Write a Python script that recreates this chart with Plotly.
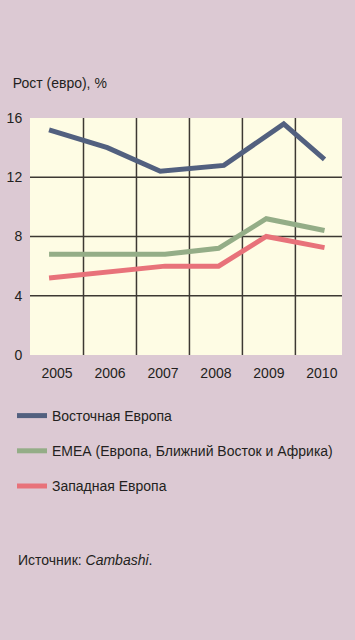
import plotly.graph_objects as go

# ---- data ----
years = [2005, 2006, 2007, 2008, 2009, 2010]
year_labels = ["2005", "2006", "2007", "2008", "2009", "2010"]

east_x = [2004.85, 2005.95, 2006.95, 2008.15, 2009.28, 2010.05]
east_y = [15.2, 14.0, 12.4, 12.8, 15.6, 13.2]

emea_x = [2004.85, 2006.0, 2007.04, 2008.05, 2008.95, 2010.05]
emea_y = [6.8, 6.8, 6.8, 7.2, 9.2, 8.4]

west_x = [2004.85, 2006.04, 2007.04, 2008.05, 2008.95, 2010.05]
west_y = [5.2, 5.6, 6.0, 6.0, 8.0, 7.25]

series_names = [
    "Восточная Европа",
    "ЕМЕА (Европа, Ближний Восток и Африка)",
    "Западная Европа",
]
y_ticks = [0, 4, 8, 12, 16]
y_grid = [4, 8, 12]
x_grid = [2005.5, 2006.5, 2007.5, 2008.5, 2009.5]

FONT = "Liberation Sans, Arial, sans-serif"
TXT = "#231f20"
GRID = "#3d3833"

fig = go.Figure()
for name, xs, ys, col, grp in [
    (series_names[0], east_x, east_y, "#52607f", "a"),
    (series_names[1], emea_x, emea_y, "#94ad87", "b"),
    (series_names[2], west_x, west_y, "#e8727a", "c"),
]:
    fig.add_trace(go.Scatter(
        x=xs, y=ys, mode="lines", name=name, legendgroup=grp,
        line=dict(color=col, width=5),
        hoverinfo="skip",
    ))

shapes = []
for gx in x_grid:
    shapes.append(dict(type="line", xref="x", yref="paper", x0=gx, x1=gx, y0=0, y1=1,
                       line=dict(color=GRID, width=1.5), layer="below"))
for gy in y_grid:
    shapes.append(dict(type="line", xref="paper", yref="y", x0=0, x1=1, y0=gy, y1=gy,
                       line=dict(color=GRID, width=1.5), layer="below"))

fig.update_layout(
    width=355, height=640,
    margin=dict(l=30, r=13, t=118, b=285, pad=0, autoexpand=False),
    paper_bgcolor="#dcc9d3",
    plot_bgcolor="#fefce4",
    font=dict(family=FONT, size=14, color=TXT),
    title=dict(
        text="Рост (евро), %", x=12.7 / 355, xref="container", xanchor="left",
        y=1 - 83 / 640, yref="container", yanchor="middle",
        font=dict(family=FONT, size=14, color=TXT),
    ),
    showlegend=True,
    legend=dict(
        xref="container", yref="container",
        x=12 / 355, xanchor="left",
        y=1 - 400 / 640, yanchor="top",
        bgcolor="rgba(0,0,0,0)", borderwidth=0,
        traceorder="grouped", tracegroupgap=14,
        font=dict(family=FONT, size=14, color=TXT),
    ),
    xaxis=dict(
        range=[2004.49, 2010.38], tickmode="array", tickvals=years, ticktext=year_labels,
        showgrid=False, zeroline=False, showline=False,
        ticks="outside", ticklen=5, tickcolor="rgba(0,0,0,0)",
        fixedrange=True,
    ),
    yaxis=dict(
        range=[0, 16], tickmode="array", tickvals=y_ticks,
        showgrid=False, zeroline=False, showline=False,
        ticks="outside", ticklen=4, tickcolor="rgba(0,0,0,0)",
        fixedrange=True,
    ),
    shapes=shapes,
    annotations=[dict(
        text="Источник: <i>Cambashi</i>.", xref="paper", yref="paper",
        x=(16 - 30) / 312, y=(355 - 560) / 237, xanchor="left", yanchor="middle",
        showarrow=False, font=dict(family=FONT, size=14, color=TXT),
    )],
)

fig.write_html("out.html", config={"displayModeBar": False},
               post_script="document.body.style.margin='0';")
